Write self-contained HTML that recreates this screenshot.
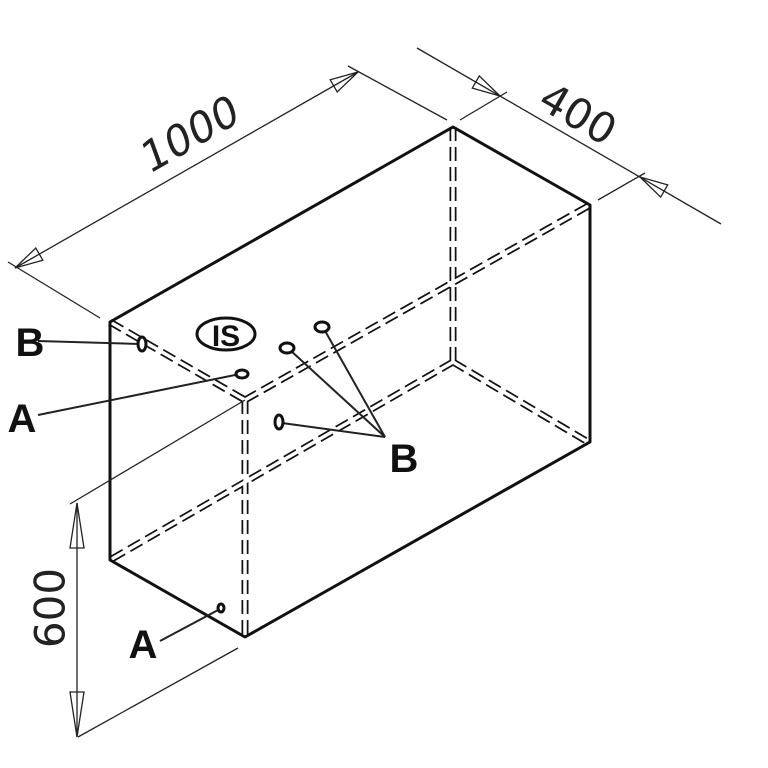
<!DOCTYPE html>
<html><head><meta charset="utf-8"><style>html,body{margin:0;padding:0;background:#fff}svg{display:block}</style></head>
<body>
<svg width="768" height="768" viewBox="0 0 768 768" xmlns="http://www.w3.org/2000/svg">
<rect width="768" height="768" fill="#fff"/>
<g fill="none" stroke-linecap="butt">
<g stroke="#111" stroke-width="7" stroke-dasharray="14 6">
<line x1="110" y1="322" x2="245" y2="400"/>
<line x1="245" y1="400" x2="590" y2="205"/>
<line x1="245" y1="400" x2="245" y2="637"/>
<line x1="453" y1="127" x2="453" y2="362"/>
<line x1="453" y1="362" x2="588" y2="442"/>
<line x1="453" y1="362" x2="110" y2="560"/>
</g>
<g stroke="#fff" stroke-width="3.5">
<line x1="110" y1="322" x2="245" y2="400"/>
<line x1="245" y1="400" x2="590" y2="205"/>
<line x1="245" y1="400" x2="245" y2="637"/>
<line x1="453" y1="127" x2="453" y2="362"/>
<line x1="453" y1="362" x2="588" y2="442"/>
<line x1="453" y1="362" x2="110" y2="560"/>
</g>
<polygon points="110,322 453,127 590,205 590,442 245,637 110,560" stroke="#111" stroke-width="3" stroke-linejoin="round"/>
<g stroke="#222" stroke-width="1.3">
<line x1="15" y1="268" x2="358" y2="72"/>
<line x1="8" y1="262" x2="100" y2="318"/>
<line x1="348" y1="66" x2="447" y2="120"/>
<line x1="417" y1="48" x2="721" y2="224"/>
<line x1="460" y1="120" x2="507" y2="92"/>
<line x1="598" y1="200" x2="645" y2="173"/>
<line x1="77" y1="503" x2="77" y2="737"/>
<line x1="70" y1="504" x2="245" y2="400"/>
<line x1="78" y1="737" x2="238" y2="648"/>
<polygon points="15,268 42.8,260.2 35.8,248.0"/>
<polygon points="358,72 337.2,92.0 330.2,79.8"/>
<polygon points="500,96 472.3,88.1 479.3,75.9"/>
<polygon points="640,177 660.7,197.1 667.7,184.9"/>
<polygon points="77,503 70,548 84,548"/>
<polygon points="77,737 70,692 84,692"/>
</g>
<g stroke="#222" stroke-width="2">
<line x1="38" y1="341" x2="140" y2="344"/>
<line x1="38" y1="415" x2="240" y2="374"/>
<line x1="160" y1="641" x2="220" y2="609"/>
<line x1="385" y1="437" x2="290" y2="350"/>
<line x1="385" y1="437" x2="324" y2="329"/>
<line x1="385" y1="437" x2="282" y2="423"/>
</g>
<g stroke="#111" stroke-width="3" fill="#fff">
<ellipse cx="142" cy="344" rx="4" ry="7"/>
<ellipse cx="242" cy="374" rx="6" ry="4"/>
<ellipse cx="287" cy="348" rx="7" ry="5"/>
<ellipse cx="322" cy="327" rx="7" ry="5"/>
<ellipse cx="279" cy="422" rx="4" ry="7"/>
<ellipse cx="221" cy="608" rx="3" ry="4"/>
</g>
<ellipse cx="226" cy="334" rx="29" ry="16" stroke="#111" stroke-width="3"/>
</g>
<g font-family="Liberation Sans, sans-serif" fill="#111">
<text x="226" y="346" font-size="30" font-weight="bold" text-anchor="middle">IS</text>
<text x="30" y="356" font-size="40" font-weight="bold" text-anchor="middle">B</text>
<text x="22" y="432" font-size="40" font-weight="bold" text-anchor="middle">A</text>
<text x="143" y="658" font-size="40" font-weight="bold" text-anchor="middle">A</text>
<text x="404" y="472" font-size="40" font-weight="bold" text-anchor="middle">B</text>
</g>
<g font-family="DejaVu Sans, sans-serif" font-weight="normal" fill="#222" font-size="42">
<text transform="translate(190,134) rotate(-30) skewX(-10)" text-anchor="middle" dominant-baseline="central">1000</text>
<text transform="translate(578,114) rotate(30)" text-anchor="middle" dominant-baseline="central">400</text>
<text transform="translate(50,608) rotate(-90)" text-anchor="middle" dominant-baseline="central">600</text>
</g>
</svg>
</body></html>
